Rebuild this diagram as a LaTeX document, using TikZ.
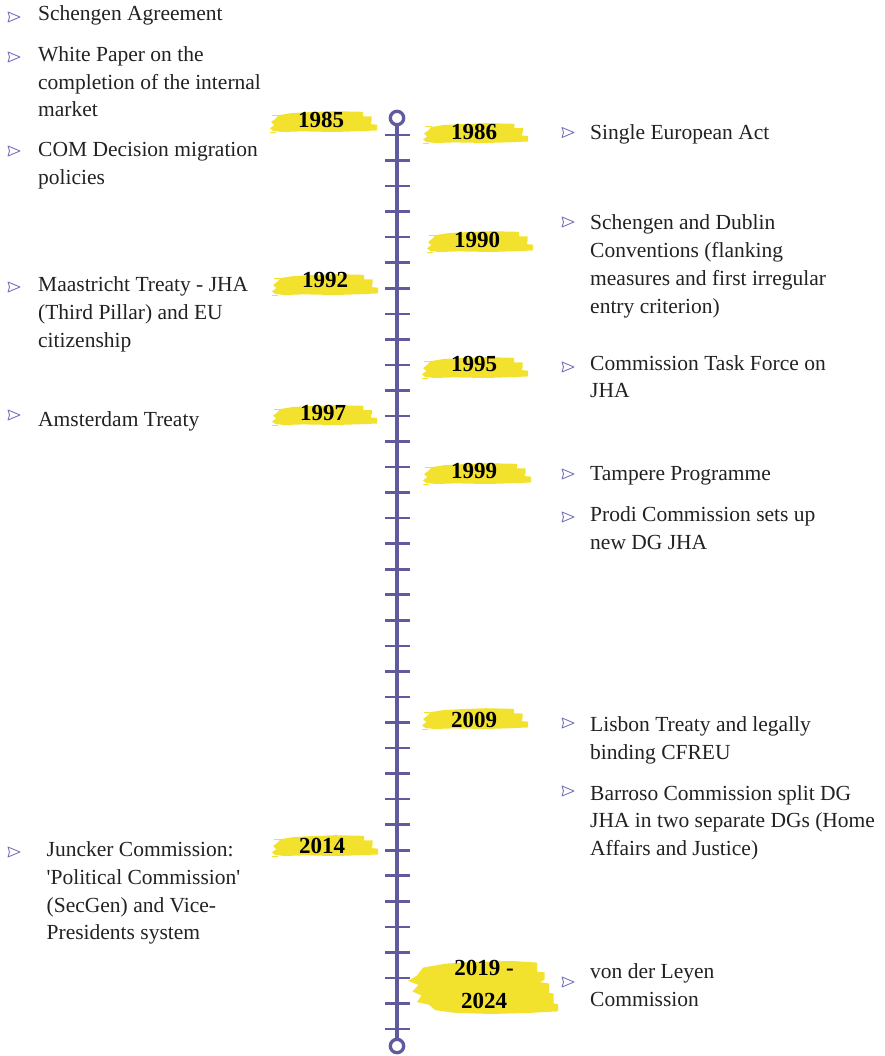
\documentclass[tikz,border=0pt]{standalone}
\usepackage{fontspec}
\setmainfont{Liberation Serif}
\newfontfamily\plainserif{Liberation Serif}
\definecolor{tl}{RGB}{96,91,158}
\definecolor{mk}{RGB}{120,116,190}
\definecolor{hl}{RGB}{242,226,46}
\definecolor{txtc}{RGB}{34,34,34}
\tikzset{
  txt/.style={anchor=base west, align=left, inner sep=0pt, text=txtc,
    font=\plainserif\fontsize{21.5}{27.7}\selectfont},
  yr/.style={inner sep=0pt, align=center, text=black,
    font=\plainserif\fontsize{23}{33}\selectfont\bfseries},
  mkr/.style={draw=mk, line width=0.9pt, line join=round},
  tick/.style={draw=tl, line width=2.6pt},
  axis/.style={draw=tl, line width=4.5pt},
  ring/.style={draw=tl, line width=3.3pt}
}
\newcommand{\brush}[4]{%
  \begin{scope}[shift={(#1,#2)},xscale=#3/100,yscale=#4/20]
    \fill[hl] (8,4) -- (20,2) -- (35,1.2) -- (60,0.2) -- (87,0.8) -- (87,5) -- (95,5.2)
      -- (95,9) -- (94,12.5) -- (100,13) -- (100,18.5) -- (85,19.2) -- (60,20)
      -- (30,19.4) -- (12,20) -- (3,19) -- (0,16.5) -- (4,13.5) -- (1,10.5) -- (5,7.5) -- cycle;
    \fill[hl] (2,3.5) rectangle (9,4.3);
    \fill[hl] (0,20.2) rectangle (6,20.8);
  \end{scope}}
\newcommand{\bigbrush}[4]{%
  \begin{scope}[shift={(#1,#2)},xscale=#3/100,yscale=#4/20]
    \fill[hl] (10,2.5) -- (25,1) -- (45,0.3) -- (70,0) -- (86,0.6) -- (86,4) -- (91,4.3)
      -- (91,7) -- (88,8) -- (94,8.5) -- (94,12) -- (97,12.3) -- (97,16) -- (100,16.3)
      -- (100,19) -- (80,19.6) -- (55,20) -- (30,19.5) -- (18,18.5) -- (14,16.5) -- (6,15.5)
      -- (9,13) -- (3,11.5) -- (7,9) -- (0,7.5) -- (6,5.5) -- cycle;
  \end{scope}}
\newcommand{\mrk}[2]{\draw[mkr] (#1-6,#2-5) -- (#1+6,#2) -- (#1-6,#2+5) -- (#1-4.5,#2) -- cycle;}
\begin{document}
\begin{tikzpicture}[x=1pt,y=-1pt]
\useasboundingbox (0,0) rectangle (884,1056);
\fill[white] (0,0) rectangle (884,1056);

% timeline
\coordinate (top) at (397,118);
\coordinate (bot) at (397,1046);
\draw[axis] ([yshift=-8pt]top) -- ([yshift=8pt]bot);
\foreach \i in {0,...,35}
  \draw[tick] (385,{135+\i*25.543}) -- (410,{135+\i*25.543});
\draw[ring, fill=white] (top) circle (6.7);
\draw[ring, fill=white] (bot) circle (6.7);

% highlights
\brush{270}{111}{107}{21}
\brush{423}{123}{105}{20}
\brush{427}{231}{106}{21}
\brush{272}{274}{106}{21}
\brush{422}{357}{106}{21}
\brush{272}{405}{105}{20}
\brush{423}{463}{108}{21}
\brush{422}{708}{106}{21}
\brush{272}{835}{106}{21}
\bigbrush{408}{961}{150}{53}

% years
\node[yr] (y1985) at (321,119.5) {1985};
\node[yr] (y1986) at (474,131.5) {1986};
\node[yr] (y1990) at (477,239.5) {1990};
\node[yr] (y1992) at (325,279.5) {1992};
\node[yr] (y1995) at (474,364) {1995};
\node[yr] (y1997) at (323,412.5) {1997};
\node[yr] (y1999) at (474,471) {1999};
\node[yr] (y2009) at (474,720) {2009};
\node[yr] (y2014) at (322,845.5) {2014};
\node[yr] (y2019) at (484,984.5) {2019 -\\2024};

% left texts (anchor = baseline of last line)
\node[txt] (l1) at (38,21) {Schengen Agreement};
\node[txt] (l2) at (38,116.9) {White Paper on the\\completion of the internal\\market};
\node[txt] (l3) at (38,184.7) {COM Decision migration\\policies};
\node[txt] (l4) at (38,347.1) {Maastricht Treaty - JHA\\(Third Pillar) and EU\\citizenship};
\node[txt] (l5) at (38,426.7) {Amsterdam Treaty};
\node[txt] (l6) at (46.5,939.8) {Juncker Commission:\\'Political Commission'\\(SecGen) and Vice-\\Presidents system};

% right texts
\node[txt] (r1) at (590,140) {Single European Act};
\node[txt] (r2) at (590,313.1) {Schengen and Dublin\\Conventions (flanking\\measures and first irregular\\entry criterion)};
\node[txt] (r3) at (590,397.7) {Commission Task Force on\\JHA};
\node[txt] (r4) at (590,480.7) {Tampere Programme};
\node[txt] (r5) at (590,549.4) {Prodi Commission sets up\\new DG JHA};
\node[txt] (r6) at (590,759.4) {Lisbon Treaty and legally\\binding CFREU};
\node[txt] (r7) at (590,855.4) {Barroso Commission split DG\\JHA in two separate DGs (Home\\Affairs and Justice)};
\node[txt] (r8) at (590,1006.2) {von der Leyen\\Commission};

% markers
\mrk{14}{17}
\mrk{14}{57}
\mrk{14}{151}
\mrk{14}{287}
\mrk{14}{415}
\mrk{14}{852}
\mrk{568}{132.5}
\mrk{568}{222}
\mrk{568}{367}
\mrk{568}{474}
\mrk{568}{517}
\mrk{568}{723}
\mrk{568}{791}
\mrk{568}{982}
\end{tikzpicture}
\end{document}
